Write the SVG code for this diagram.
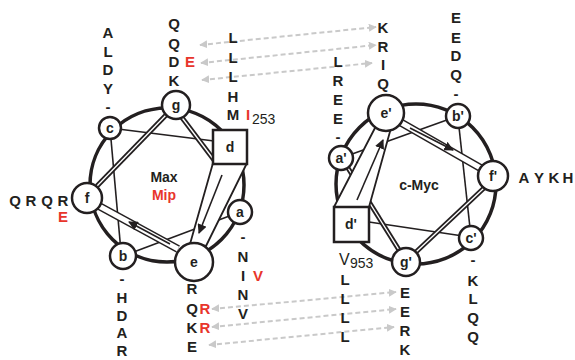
<svg xmlns="http://www.w3.org/2000/svg" width="575" height="360" viewBox="0 0 575 360">
  <defs>
    <marker id="gh" viewBox="0 0 10 10" refX="9" refY="5" markerWidth="4" markerHeight="4" orient="auto-start-reverse" markerUnits="strokeWidth">
      <path d="M0,0 L10,5 L0,10 Z" fill="#c9c9c9"/>
    </marker>
    <marker id="bh" viewBox="0 0 10 10" refX="9" refY="5" markerWidth="6" markerHeight="6" orient="auto" markerUnits="strokeWidth">
      <path d="M0,0 L10,5 L0,10 Z" fill="#231f20"/>
    </marker>
  </defs>
  <style>
    text { font-family: "Liberation Sans", Arial, sans-serif; fill: #231f20; }
    .res { font-size: 15px; font-weight: bold; text-anchor: middle; }
    .red { fill: #e8352b; }
    .lbl { font-size: 14px; font-weight: bold; text-anchor: middle; }
    .num { font-size: 14px; }
    .wheel { fill: none; stroke: #231f20; stroke-width: 3.5; }
    .thin { stroke: #231f20; stroke-width: 1.6; fill: none; }
    .dblo { stroke: #231f20; stroke-width: 5; fill: none; }
    .dbli { stroke: #fff; stroke-width: 1.3; fill: none; }
    .bando { stroke: #231f20; stroke-width: 8; fill: none; }
    .bandi { stroke: #fff; stroke-width: 5; fill: none; }
    .arr { stroke: #231f20; stroke-width: 1.6; fill: none; marker-end: url(#bh); }
    .wedge { fill: #fff; stroke: #231f20; stroke-width: 1.8; stroke-linejoin: round; }
    .node { fill: #fff; stroke: #231f20; stroke-width: 2.5; }
    .dash { stroke: #c9c9c9; stroke-width: 2; stroke-dasharray: 5 3; fill: none; marker-start: url(#gh); marker-end: url(#gh); }
  </style>

  <!-- interaction connectors between the two helices -->
  <g id="connectors">
    <line class="dash" x1="200" y1="45" x2="376" y2="27"/>
    <line class="dash" x1="201" y1="63" x2="376" y2="45"/>
    <line class="dash" x1="202" y1="80" x2="372" y2="63"/>
    <line class="dash" x1="212" y1="309" x2="396" y2="292"/>
    <line class="dash" x1="212" y1="327" x2="396" y2="309"/>
    <line class="dash" x1="209" y1="345" x2="394" y2="327"/>
  </g>

  <!-- Max / Mip wheel -->
  <g id="wheel-max">
    <circle class="wheel" cx="167" cy="185" r="77"/>
    <line class="thin" x1="110" y1="128" x2="214" y2="141"/>
    <line class="thin" x1="110" y1="128" x2="121" y2="252"/>
    <line class="thin" x1="123" y1="256" x2="240" y2="212"/>
    <line class="dblo" x1="169" y1="112" x2="97" y2="186"/>
    <line class="dbli" x1="169" y1="112" x2="97" y2="186"/>
    <line class="dblo" x1="180" y1="115" x2="214" y2="160"/>
    <line class="dbli" x1="180" y1="115" x2="214" y2="160"/>
    <line class="bando" x1="99" y1="206" x2="178" y2="249"/>
    <line class="bandi" x1="99" y1="206" x2="178" y2="249"/>
    <line class="arr" x1="170" y1="244" x2="129" y2="222"/>
    <polygon class="wedge" points="213,163 247,163 206,246 190,244"/>
    <line class="arr" x1="222" y1="175" x2="199" y2="233"/>
  </g>

  <g id="node-g"><circle class="node" cx="176" cy="105" r="14"/><text class="lbl" x="176" y="110">g</text></g>
  <g id="node-c"><circle class="node" cx="110" cy="128" r="11"/><text class="lbl" x="110" y="133">c</text></g>
  <g id="node-d"><rect class="node" x="213" y="130" width="34" height="34"/><text class="lbl" x="230" y="152">d</text></g>
  <g id="node-f"><circle class="node" cx="87" cy="198" r="15"/><text class="lbl" x="87" y="203">f</text></g>
  <g id="node-a"><circle class="node" cx="240" cy="212" r="12"/><text class="lbl" x="240" y="217">a</text></g>
  <g id="node-b"><circle class="node" cx="123" cy="256" r="13"/><text class="lbl" x="123" y="261">b</text></g>
  <g id="node-e"><circle class="node" cx="194" cy="262" r="19"/><text class="lbl" x="194" y="267">e</text></g>
  <g id="label-max">
    <text class="lbl" x="164" y="182">Max</text>
    <text class="lbl red" x="164" y="200">Mip</text>
  </g>

  <!-- c-Myc wheel -->
  <g id="wheel-myc">
    <circle class="wheel" cx="416" cy="184" r="80"/>
    <line class="thin" x1="341" y1="158" x2="458" y2="116"/>
    <line class="thin" x1="459" y1="127" x2="470" y2="228"/>
    <line class="thin" x1="369" y1="222" x2="463" y2="236"/>
    <line class="dblo" x1="343" y1="160" x2="404" y2="258"/>
    <line class="dbli" x1="343" y1="160" x2="404" y2="258"/>
    <line class="dblo" x1="484" y1="188" x2="416" y2="252"/>
    <line class="dbli" x1="484" y1="188" x2="416" y2="252"/>
    <line class="bando" x1="400" y1="122" x2="484" y2="170"/>
    <line class="bandi" x1="400" y1="122" x2="484" y2="170"/>
    <line class="arr" x1="410" y1="128" x2="453" y2="150"/>
    <polygon class="wedge" points="334,207 369,207 391,128 376,126"/>
    <line class="arr" x1="357" y1="200" x2="383" y2="140"/>
  </g>

  <g id="node-e2"><circle class="node" cx="386" cy="113" r="18"/><text class="lbl" x="386" y="118">e'</text></g>
  <g id="node-b2"><circle class="node" cx="458" cy="116" r="12"/><text class="lbl" x="458" y="121">b'</text></g>
  <g id="node-a2"><circle class="node" cx="341" cy="158" r="12"/><text class="lbl" x="341" y="163">a'</text></g>
  <g id="node-f2"><circle class="node" cx="493" cy="176" r="15"/><text class="lbl" x="493" y="181">f'</text></g>
  <g id="node-d2"><rect class="node" x="334" y="207" width="35" height="35"/><text class="lbl" x="351" y="229">d'</text></g>
  <g id="node-c2"><circle class="node" cx="471" cy="238" r="12"/><text class="lbl" x="471" y="243">c'</text></g>
  <g id="node-g2"><circle class="node" cx="406" cy="262" r="14"/><text class="lbl" x="406" y="267">g'</text></g>
  <g id="label-myc"><text class="lbl" x="419" y="190">c-Myc</text></g>

  <!-- residue columns, Max side -->
  <g id="seq-max">
    <text class="res" x="108" y="37.5">A</text>
    <text class="res" x="108" y="56.5">L</text>
    <text class="res" x="108" y="74.5">D</text>
    <text class="res" x="108" y="93.5">Y</text>
    <text class="res" x="108" y="111.5">-</text>

    <text class="res" x="174" y="28.5">Q</text>
    <text class="res" x="174" y="48.5">Q</text>
    <text class="res" x="174" y="66.5">D</text>
    <text class="res" x="174" y="85.5">K</text>
    <text class="res red" x="190" y="66.5">E</text>

    <text class="res" x="233" y="42.5">L</text>
    <text class="res" x="233" y="62.5">L</text>
    <text class="res" x="233" y="81.5">L</text>
    <text class="res" x="233" y="101.5">H</text>
    <text class="res" x="233" y="119.5">M</text>
    <text class="res red" x="248" y="119.5">I</text>
    <text class="num" x="252" y="123.5">253</text>

    <text class="res" x="15" y="205.5">Q</text>
    <text class="res" x="31" y="205.5">R</text>
    <text class="res" x="47" y="205.5">Q</text>
    <text class="res" x="63" y="205.5">R</text>
    <text class="res red" x="63" y="221.5">E</text>

    <text class="res" x="243" y="241.5">-</text>
    <text class="res" x="243" y="261.5">N</text>
    <text class="res" x="243" y="280.5">I</text>
    <text class="res" x="243" y="299.5">N</text>
    <text class="res" x="243" y="318.5">V</text>
    <text class="res red" x="258" y="280.5">V</text>

    <text class="res" x="122" y="283.5">-</text>
    <text class="res" x="122" y="303">H</text>
    <text class="res" x="122" y="320.5">D</text>
    <text class="res" x="122" y="338">A</text>
    <text class="res" x="122" y="355.5">R</text>

    <text class="res" x="192" y="293.5">R</text>
    <text class="res" x="192" y="313.5">Q</text>
    <text class="res" x="192" y="332.5">K</text>
    <text class="res" x="192" y="351.5">E</text>
    <text class="res red" x="205" y="313.5">R</text>
    <text class="res red" x="205" y="332.5">R</text>
  </g>

  <!-- residue columns, c-Myc side -->
  <g id="seq-myc">
    <text class="res" x="383" y="32.5">K</text>
    <text class="res" x="383" y="51.5">R</text>
    <text class="res" x="383" y="69.5">I</text>
    <text class="res" x="383" y="88.5">Q</text>

    <text class="res" x="338" y="66.5">L</text>
    <text class="res" x="338" y="85.5">R</text>
    <text class="res" x="338" y="104.5">E</text>
    <text class="res" x="338" y="123.5">E</text>
    <text class="res" x="338" y="141.5">-</text>

    <text class="res" x="456" y="22.5">E</text>
    <text class="res" x="456" y="42.5">E</text>
    <text class="res" x="456" y="60.5">D</text>
    <text class="res" x="456" y="79.5">Q</text>
    <text class="res" x="456" y="98.5">-</text>

    <text class="res" x="524" y="182.5">A</text>
    <text class="res" x="539" y="182.5">Y</text>
    <text class="res" x="554" y="182.5">K</text>
    <text class="res" x="568" y="182.5">H</text>

    <text style="font-size:16px" x="339" y="264.5">V</text>
    <text class="num" x="350" y="268">953</text>

    <text class="res" x="345" y="284.5">L</text>
    <text class="res" x="345" y="303.5">L</text>
    <text class="res" x="345" y="322.5">L</text>
    <text class="res" x="345" y="341.5">L</text>

    <text class="res" x="405" y="297.5">E</text>
    <text class="res" x="405" y="316.5">E</text>
    <text class="res" x="405" y="335.5">R</text>
    <text class="res" x="405" y="354.5">K</text>

    <text class="res" x="473" y="264.5">-</text>
    <text class="res" x="473" y="285.5">K</text>
    <text class="res" x="473" y="303.5">L</text>
    <text class="res" x="473" y="322.5">Q</text>
    <text class="res" x="473" y="341.5">Q</text>
  </g>
</svg>
